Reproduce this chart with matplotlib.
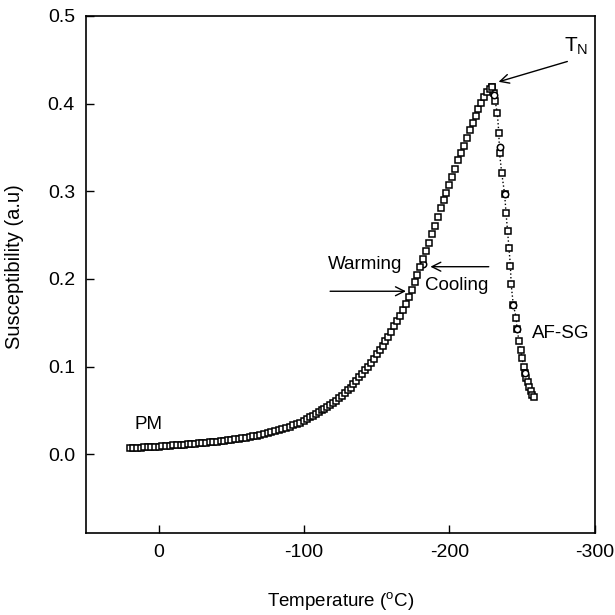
import numpy as np
import matplotlib
matplotlib.use("Agg")
import matplotlib.pyplot as plt

plt.rcParams['font.family'] = ['Liberation Sans', 'DejaVu Sans']

# Warming branch (temperature in C, susceptibility a.u.)
warm_T = [20, 17.5, 15, 12.5, 10, 7.5, 5, 2.5, 0,
          -2.5, -5, -7.5, -10, -12.5, -15, -17.5, -20,
          -22.5, -25, -27.5, -30, -32.5, -35, -37.5, -40,
          -42.5, -45, -47.5, -50, -52.5, -55, -57.5, -60,
          -62.5, -65, -67.5, -70, -72.5, -75, -77.5, -80,
          -82.5, -85, -87.5, -90, -92.5, -95, -97.5, -100,
          -102, -104, -106, -108, -110, -112, -114, -116, -118, -120,
          -122, -124, -126, -128, -130, -132, -134, -136, -138, -140,
          -142, -144, -146, -148, -150, -152, -154, -156, -158, -160,
          -162, -164, -166, -168, -170, -172, -174, -176, -178, -180,
          -182, -184, -186, -188, -190, -192, -194, -196, -198, -200,
          -202, -204, -206, -208, -210, -212, -214, -216, -218, -220,
          -222, -224, -226, -228, -229]
warm_chi = [0.0070, 0.0072, 0.0074, 0.0076, 0.0078, 0.0080, 0.0083, 0.0086, 0.0089,
            0.0092, 0.0095, 0.0098, 0.0101, 0.0104, 0.0107, 0.0110, 0.0113,
            0.0116, 0.0120, 0.0124, 0.0128, 0.0132, 0.0136, 0.0140, 0.0145,
            0.0150, 0.0155, 0.0160, 0.0165, 0.0171, 0.0177, 0.0183, 0.0190,
            0.0197, 0.0205, 0.0213, 0.0222, 0.0231, 0.0241, 0.0252, 0.0263,
            0.0275, 0.0288, 0.0301, 0.0315, 0.0330, 0.0346, 0.0362, 0.0380,
            0.040, 0.042, 0.044, 0.046, 0.048, 0.050, 0.052, 0.054, 0.056, 0.058,
            0.061, 0.064, 0.067, 0.070, 0.073, 0.076, 0.080, 0.084, 0.088, 0.092,
            0.096, 0.100, 0.104, 0.109, 0.114, 0.119, 0.124, 0.129, 0.134, 0.140,
            0.146, 0.152, 0.158, 0.165, 0.172, 0.180, 0.188, 0.196, 0.205, 0.214,
            0.223, 0.232, 0.241, 0.251, 0.261, 0.271, 0.281, 0.290, 0.298, 0.307,
            0.316, 0.326, 0.336, 0.344, 0.352, 0.361, 0.370, 0.378, 0.386, 0.394,
            0.401, 0.408, 0.413, 0.417, 0.419]

# Cooling branch below T_N (AF-SG region)
cool_T = [-229, -230.5, -231.5, -233, -234, -234.5, -236, -238, -239, -240,
          -241, -242, -242.5, -244, -246, -246.5, -248, -249, -250, -251,
          -252, -253, -254, -255, -256, -257, -258]
cool_chi = [0.419, 0.412, 0.403, 0.389, 0.367, 0.344, 0.321, 0.297, 0.275, 0.255,
            0.235, 0.215, 0.194, 0.170, 0.156, 0.143, 0.129, 0.119, 0.110, 0.100,
            0.093, 0.087, 0.082, 0.077, 0.072, 0.068, 0.065]

# a few cooling points drawn as circles
circ_T = [-182, -231, -234.5, -238, -244, -246.5, -252]
circ_chi = [0.217, 0.410, 0.350, 0.297, 0.170, 0.143, 0.093]

fig = plt.figure(figsize=(6.15, 6.15), dpi=100)
ax = fig.add_axes([0.140, 0.133, 0.827, 0.841])

mk = dict(markersize=4.6, markerfacecolor='white', markeredgecolor='black',
          markeredgewidth=1.1)
ax.plot(cool_T, cool_chi, color='black', linestyle=':', linewidth=1.0,
        marker='s', **mk)
ax.plot(circ_T, circ_chi, linestyle='none', marker='o', **mk)
ax.plot(warm_T, warm_chi, linestyle='none', marker='s', **mk)

ax.set_xlim(50, -300)
ax.set_ylim(-0.09, 0.5)
ax.set_xticks([0, -100, -200, -300])
ax.set_xticklabels(['0', '-100', '-200', '-300'])
ax.set_yticks([0.0, 0.1, 0.2, 0.3, 0.4, 0.5])
ax.set_yticklabels(['0.0', '0.1', '0.2', '0.3', '0.4', '0.5'])
ax.tick_params(direction='in', length=6, width=1, labelsize=14, pad=8,
               top=False, right=False)
for s in ax.spines.values():
    s.set_linewidth(1.2)

ax.set_xlabel('Temperature ($^{\\mathregular{o}}$C)', fontsize=13.5)
ax.set_ylabel('Susceptibility (a.u)', fontsize=14.5)
ax.xaxis.set_label_coords(0.5, -0.11)
ax.yaxis.set_label_coords(-0.122, 0.515)

ax.text(17, 0.034, 'PM', fontsize=13.5, ha='left', va='center')
ax.text(-257, 0.138, 'AF-SG', fontsize=13.5, ha='left', va='center')
ax.text(-142, 0.217, 'Warming', fontsize=13.5, ha='center', va='center')
ax.text(-205, 0.192, 'Cooling', fontsize=13.5, ha='center', va='center')
ax.text(-287, 0.465, 'T$_{\\mathregular{N}}$', fontsize=15, ha='center', va='center')

arrow = dict(arrowstyle='->', color='black', lw=1.0, mutation_scale=16)
ax.annotate('', xy=(-232, 0.424), xytext=(-283, 0.449), arrowprops=arrow)
ax.annotate('', xy=(-172, 0.186), xytext=(-116, 0.186), arrowprops=arrow)
ax.annotate('', xy=(-185, 0.214), xytext=(-229, 0.214), arrowprops=arrow)

fig.savefig('out.png', dpi=100)
